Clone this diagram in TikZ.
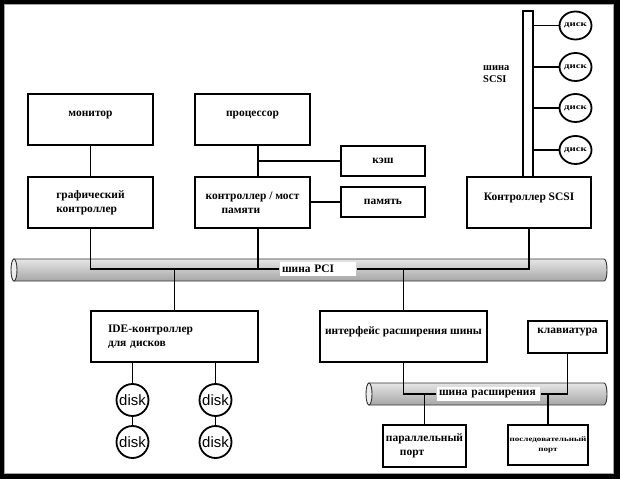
\documentclass[tikz,border=0pt]{standalone}
\usepackage{fontspec}
\setmainfont{Liberation Serif}
\newfontfamily\disksans{Liberation Sans}
\usetikzlibrary{shapes.geometric}

% bus drawn as a grey pipe: left x, right x, middle y
\newcommand{\buspipe}[3]{%
  \shade[top color=gray!20, bottom color=gray!70, draw=gray!40!black, line width=0.9bp]
    (#1,#3-11) -- (#2-3,#3-11) .. controls (#2+1,#3-11) and (#2+1,#3+11) .. (#2-3,#3+11)
    -- (#1,#3+11) -- cycle;
  \draw[gray!40!black, line width=0.9bp, fill=gray!15] (#1,#3) ellipse (3 and 11);
}

\begin{document}
\begin{tikzpicture}[x=1bp,y=-1bp,line width=1.8bp,
    font=\bfseries\fontsize{11.5}{14}\selectfont,
    box/.style 2 args={draw, fill=white, minimum width=#1bp, minimum height=#2bp, inner sep=1bp},
    raised/.style={text depth=12bp},
    buslabel/.style={fill=white, inner xsep=2bp, inner ysep=1bp, minimum height=14bp, align=left},
    sdisk/.style={draw, fill=white, ellipse, minimum width=32bp, minimum height=28bp, inner sep=0pt,
      font=\bfseries\fontsize{8}{8}\selectfont},
    idisk/.style={draw, fill=white, circle, minimum size=32bp, inner sep=0pt,
      font=\disksans\fontsize{15}{15}\selectfont}]
    \useasboundingbox (0,0) rectangle (620,479);
    \fill[black] (0,0) rectangle (620,479);
    \draw[fill=white, draw=gray!70, line width=1.2bp] (4.5,4.5) rectangle (613.5,473.5);
    %
    \buspipe{14}{607}{270}
    \buspipe{369}{607}{394}
    %
    \node[box={125}{51}, raised] (monitor) at (90.5,119.5) {монитор};
    \node[box={125}{51}, align=left] (gpu) at (90.5,202.5) {графический\\контроллер};
    \node[box={115}{51}, raised] (cpu) at (252.5,119.5) {процессор};
    \node[box={115}{51}, align=left] (bridge) at (252.5,202.5) {контроллер / мост\\\hspace*{16bp}памяти};
    \node[box={84}{30}] (cache) at (383,161) {кэш};
    \node[box={84}{30}] (ram) at (383,202) {память};
    \node[box={124}{51}, raised] (scsi) at (529,202.5) {Контроллер SCSI};
    %
    \node[box={10}{166}, inner sep=0pt] (scsibus) at (528,94) {};
    \node[anchor=west, align=left, font=\bfseries\fontsize{10.5}{12}\selectfont] (scsitxt) at (479,74) {шина\\SCSI};
    \node[sdisk] (sd1) at (575.5,25.5) {\scalebox{1.35}[1]{диск}};
    \node[sdisk] (sd2) at (575.5,67) {\scalebox{1.35}[1]{диск}};
    \node[sdisk] (sd3) at (575.5,108) {\scalebox{1.35}[1]{диск}};
    \node[sdisk] (sd4) at (575.5,150) {\scalebox{1.35}[1]{диск}};
    %
    \node[box={167}{51}, text width=133bp, inner xsep=17bp, align=left] (ide) at (174.5,336.5) {IDE-контроллер\\для дисков};
    \node[box={167}{51}, raised] (busif) at (403.5,336.5) {интерфейс расширения шины};
    \node[box={79}{32}, raised] (kbd) at (567.5,337) {клавиатура};
    \node[box={83}{42}, align=left] (lpt) at (424.5,446) {параллельный\\\hspace*{14bp}порт};
    \node[box={80}{40}, align=center, font=\bfseries\fontsize{7}{10}\selectfont] (com) at (548,445)
      {\scalebox{1.3}[1]{последовательный}\\\scalebox{1.3}[1]{порт}};
    %
    \node[idisk] (id1) at (132.5,400) {disk};
    \node[idisk] (id2) at (132.5,442) {disk};
    \node[idisk] (id3) at (215.5,400) {disk};
    \node[idisk] (id4) at (215.5,442) {disk};
    %
    \node[buslabel, text width=72bp] (pcilbl) at (318,269) {шина PCI};
    \node[buslabel, text width=99bp] (isalbl) at (488.5,394) {шина расширения};
    % processor side
    \coordinate (cpuline) at ([xshift=5.5bp]cpu.south);
    \coordinate (brline) at ([xshift=5.5bp]bridge.south);
    \draw (monitor) -- (gpu);
    \draw (cpuline) -- (cpuline |- bridge.north);
    \draw (cache.west) -- (cache.west -| cpuline);
    \draw (ram.west) -- (ram.west -| bridge.east);
    % PCI bus
    \draw (gpu.south) |- (pcilbl.west);
    \draw (brline) -- (brline |- pcilbl.west);
    \draw (scsi.south) |- (pcilbl.east);
    \draw (ide.north) -- (ide.north |- pcilbl.west);
    \draw (busif.north) -- (busif.north |- pcilbl.east);
    % SCSI bus
    \draw (sd1.west) -- (sd1.west -| scsibus.east);
    \draw (sd2.west) -- (sd2.west -| scsibus.east);
    \draw (sd3.west) -- (sd3.west -| scsibus.east);
    \draw (sd4.west) -- (sd4.west -| scsibus.east);
    % expansion bus
    \draw (busif.south) |- (isalbl.west);
    \draw (lpt.north) -- (lpt.north |- isalbl.west);
    \draw (kbd.south) |- (isalbl.east);
    \draw (com.north) -- (com.north |- isalbl.east);
    % IDE disks
    \draw (id1.north) -- (id1.north |- ide.south); \draw (id1) -- (id2);
    \draw (id3.north) -- (id3.north |- ide.south); \draw (id3) -- (id4);
\end{tikzpicture}
\end{document}
